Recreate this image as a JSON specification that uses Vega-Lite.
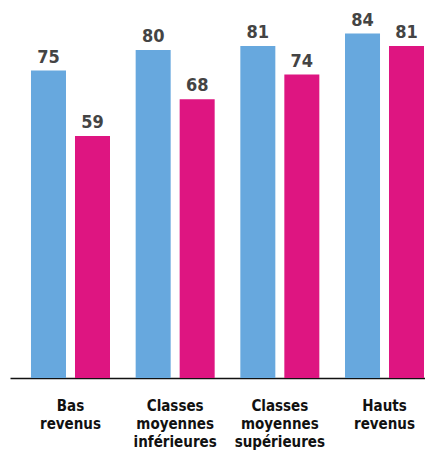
{
  "$schema": "https://vega.github.io/schema/vega-lite/v6.json",
  "width": 415,
  "height": 378,
  "autosize": {"type": "none"},
  "padding": {"left": 10, "top": 0, "right": 0, "bottom": 75},
  "background": "white",
  "config": {"view": {"stroke": null}},
  "data": {
    "values": [
      {"groupe": "Bas|revenus", "serie": "A", "valeur": 75},
      {"groupe": "Bas|revenus", "serie": "B", "valeur": 59},
      {"groupe": "Classes|moyennes|inférieures", "serie": "A", "valeur": 80},
      {"groupe": "Classes|moyennes|inférieures", "serie": "B", "valeur": 68},
      {"groupe": "Classes|moyennes|supérieures", "serie": "A", "valeur": 81},
      {"groupe": "Classes|moyennes|supérieures", "serie": "B", "valeur": 74},
      {"groupe": "Hauts|revenus", "serie": "A", "valeur": 84},
      {"groupe": "Hauts|revenus", "serie": "B", "valeur": 81}
    ]
  },
  "encoding": {
    "x": {
      "field": "groupe",
      "type": "nominal",
      "sort": null,
      "scale": {"paddingInner": 0.2452, "paddingOuter": 0.105, "align": 0.955},
      "axis": {
        "title": null,
        "labelAngle": 0,
        "labelExpr": "split(datum.value, '|')",
        "labelFont": "'DejaVu Sans Condensed', 'Open Sans', sans-serif",
        "labelFontWeight": "bold",
        "labelFontSize": 15,
        "labelLineHeight": 18,
        "labelColor": "#111111",
        "labelPadding": 20,
        "labelBaseline": "top",
        "ticks": false,
        "tickSize": 0,
        "domain": true,
        "domainColor": "#111111",
        "domainWidth": 1.5,
        "grid": false
      }
    },
    "xOffset": {
      "field": "serie",
      "type": "nominal",
      "scale": {"paddingInner": 0.2045, "paddingOuter": 0}
    },
    "y": {
      "field": "valeur",
      "type": "quantitative",
      "scale": {"domain": [0, 92.2], "nice": false, "zero": true},
      "axis": null
    }
  },
  "layer": [
    {
      "mark": {"type": "bar"},
      "encoding": {
        "color": {
          "field": "serie",
          "type": "nominal",
          "scale": {"domain": ["A", "B"], "range": ["#67a8de", "#de1581"]},
          "legend": null
        }
      }
    },
    {
      "mark": {
        "type": "text",
        "baseline": "bottom",
        "dy": -4,
        "font": "'DejaVu Sans Condensed', 'Open Sans', sans-serif",
        "fontWeight": "bold",
        "fontSize": 18,
        "color": "#444444"
      },
      "encoding": {"text": {"field": "valeur", "type": "quantitative"}}
    }
  ]
}
